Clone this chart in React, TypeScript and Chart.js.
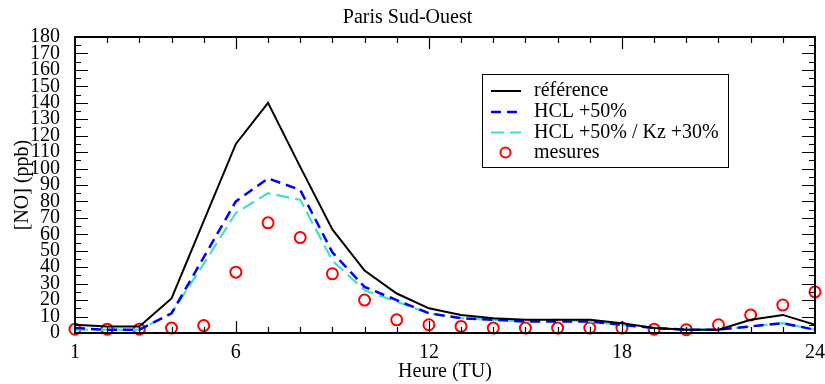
import React, { useEffect, useRef } from "react";
import { Chart, registerables } from "chart.js";

Chart.register(...registerables);

const FONT = "'Liberation Serif', 'Times New Roman', serif";

const chartTitle = "Paris Sud-Ouest";
const xTitle = "Heure (TU)";
const yTitle = "[NO] (ppb)";

const hours = [1, 2, 3, 4, 5, 6, 7, 8, 9, 10, 11, 12, 13, 14, 15, 16, 17, 18, 19, 20, 21, 22, 23, 24];
const xTickLabels = [1, 6, 12, 18, 24];

const seriesNames = ["référence", "HCL +50%", "HCL +50% / Kz +30%", "mesures"];

const reference = [5, 4, 4, 21, 68, 115, 140, 101, 63, 38, 24, 15, 11, 9, 8, 8, 8, 6, 3, 2, 2, 8, 11, 5];
const hcl50 = [3, 2, 2, 12, 46, 80, 94, 87, 49, 28, 20, 12, 9, 8, 7, 7, 7, 5, 3, 2, 2, 4, 6, 2];
const hcl50kz30 = [2, 2, 2, 12, 42, 73, 85, 81, 44, 26, 19, 12, 9, 8, 7, 8, 7, 5, 3, 2, 2, 4, 6, 2];
const mesures = [2.3, 2.3, 2.3, 3, 4.5, 37, 67, 58, 36, 20, 8, 5, 4, 3, 3, 3, 3, 3, 2.3, 2, 5, 11, 17, 25];

const toXY = (vals: number[]) => hours.map((h, i) => ({ x: h, y: vals[i] }));

const frameTicksPlugin = {
  id: "frameTicks",
  afterDatasetsDraw(chart: any) {
    const { ctx, chartArea, scales } = chart;
    const { left, right, top, bottom } = chartArea;
    const xs = scales.x;
    const ys = scales.y;
    ctx.save();
    ctx.strokeStyle = "#000";
    ctx.lineWidth = 1.2;
    ctx.beginPath();
    for (let v = 5; v < 180; v += 5) {
      const py = Math.round(ys.getPixelForValue(v)) + 0.5;
      const len = v % 10 === 0 ? 13 : 6;
      ctx.moveTo(left, py);
      ctx.lineTo(left + len, py);
      ctx.moveTo(right, py);
      ctx.lineTo(right - len, py);
    }
    for (let h = 2; h < 24; h++) {
      const px = Math.round(xs.getPixelForValue(h)) + 0.5;
      const len = xTickLabels.includes(h) ? 12 : 6;
      ctx.moveTo(px, bottom);
      ctx.lineTo(px, bottom - len);
      ctx.moveTo(px, top);
      ctx.lineTo(px, top + len);
    }
    ctx.stroke();
    ctx.lineWidth = 2;
    ctx.strokeRect(left, top, right - left, bottom - top);
    ctx.restore();
  },
};

const legendPlugin = {
  id: "customLegend",
  afterDraw(chart: any) {
    const { ctx } = chart;
    const boxL = 482, boxT = 74, boxW = 246, boxH = 93;
    const rows = [91, 112, 132.5, 152.5];
    ctx.save();
    ctx.fillStyle = "#fff";
    ctx.fillRect(boxL, boxT, boxW, boxH);
    ctx.strokeStyle = "#000";
    ctx.lineWidth = 1;
    ctx.strokeRect(boxL + 0.5, boxT + 0.5, boxW, boxH);
    chart.data.datasets.forEach((ds: any, i: number) => {
      const y = rows[i];
      if (ds.showLine === false) {
        ctx.beginPath();
        ctx.strokeStyle = ds.borderColor;
        ctx.lineWidth = ds.pointBorderWidth;
        ctx.setLineDash([]);
        ctx.arc(505.5, y, 5, 0, Math.PI * 2);
        ctx.stroke();
      } else {
        ctx.beginPath();
        ctx.strokeStyle = ds.borderColor;
        ctx.lineWidth = ds.borderWidth;
        ctx.setLineDash(ds.borderDash || []);
        ctx.moveTo(491, y);
        ctx.lineTo(521, y);
        ctx.stroke();
      }
      ctx.setLineDash([]);
      ctx.fillStyle = "#000";
      ctx.font = `20px ${FONT}`;
      ctx.textBaseline = "middle";
      ctx.textAlign = "left";
      ctx.fillText(ds.label, 534, y);
    });
    ctx.restore();
  },
};

export default function App() {
  const canvasRef = useRef<HTMLCanvasElement | null>(null);

  useEffect(() => {
    const canvas = canvasRef.current;
    if (!canvas) return;
    Chart.defaults.font.family = FONT;
    Chart.defaults.color = "#000";
    const chart = new Chart(canvas, {
      type: "line",
      data: {
        datasets: [
          {
            label: seriesNames[0],
            data: toXY(reference),
            borderColor: "#000000",
            borderWidth: 2,
            pointRadius: 0,
            fill: false,
            tension: 0,
          },
          {
            label: seriesNames[1],
            data: toXY(hcl50),
            borderColor: "#0000ff",
            borderWidth: 2.5,
            borderDash: [10, 6],
            pointRadius: 0,
            fill: false,
            tension: 0,
          },
          {
            label: seriesNames[2],
            data: toXY(hcl50kz30),
            borderColor: "#40e0d0",
            borderWidth: 2.2,
            borderDash: [13, 6],
            pointRadius: 0,
            fill: false,
            tension: 0,
          },
          {
            label: seriesNames[3],
            data: toXY(mesures),
            showLine: false,
            borderColor: "#ff0000",
            backgroundColor: "rgba(0,0,0,0)",
            pointBackgroundColor: "rgba(0,0,0,0)",
            pointBorderColor: "#ff0000",
            pointBorderWidth: 2,
            pointRadius: 5.5,
            pointStyle: "circle",
            clip: false,
          } as any,
        ],
      },
      options: {
        responsive: false,
        animation: false,
        events: [],
        layout: { padding: { left: 0, right: 10, top: 0, bottom: 0 } },
        plugins: {
          legend: { display: false },
          tooltip: { enabled: false },
          title: {
            display: true,
            text: chartTitle,
            color: "#000",
            font: { family: FONT, size: 20, weight: "normal" },
            padding: { top: 6, bottom: 7 },
          },
        },
        scales: {
          x: {
            type: "linear",
            min: 1,
            max: 24,
            grid: { display: false },
            border: { display: false },
            afterBuildTicks: (scale: any) => {
              scale.ticks = xTickLabels.map((v) => ({ value: v }));
            },
            ticks: {
              autoSkip: false,
              maxRotation: 0,
              padding: 0,
              color: "#000",
              font: { family: FONT, size: 20 },
              callback: (v: any) => String(v),
            },
            title: {
              display: true,
              text: xTitle,
              color: "#000",
              font: { family: FONT, size: 20 },
              padding: { top: 0, bottom: 0 },
            },
            afterFit: (scale: any) => {
              scale.height = 51;
              scale.paddingLeft = 0;
              scale.paddingRight = 0;
            },
          },
          y: {
            type: "linear",
            min: 0,
            max: 180,
            grid: { display: false },
            border: { display: false },
            ticks: {
              stepSize: 10,
              autoSkip: false,
              padding: 7,
              color: "#000",
              font: { family: FONT, size: 20 },
            },
            title: {
              display: true,
              text: yTitle,
              color: "#000",
              font: { family: FONT, size: 20 },
              padding: { top: 11, bottom: 0 },
            },
            afterFit: (scale: any) => {
              scale.width = 75;
              scale.paddingTop = 0;
              scale.paddingBottom = 0;
            },
          },
        },
      } as any,
      plugins: [frameTicksPlugin, legendPlugin],
    });
    return () => chart.destroy();
  }, []);

  return (
    <div style={{ position: "absolute", left: 0, top: 0, width: 825, height: 384, background: "#fff" }}>
      <canvas ref={canvasRef} width={825} height={384} />
    </div>
  );
}
